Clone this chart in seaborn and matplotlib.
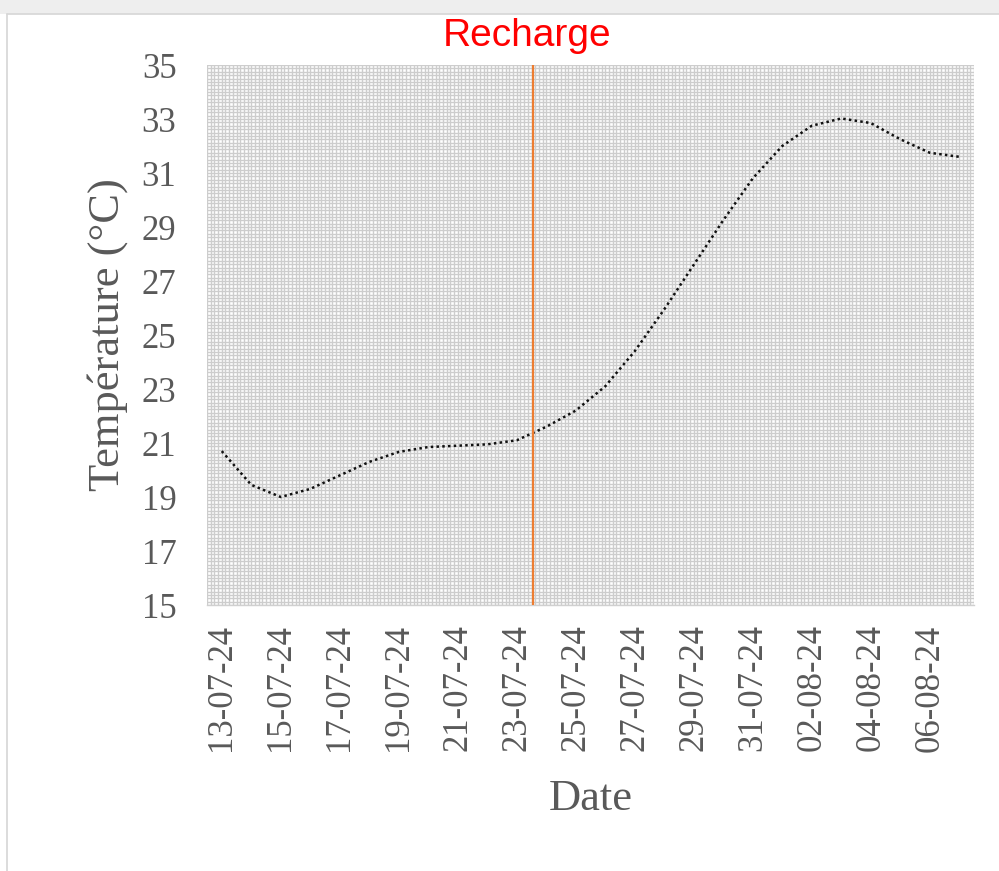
import matplotlib
matplotlib.use("Agg")
import matplotlib.pyplot as plt
import matplotlib.dates as mdates
from matplotlib.patches import Rectangle
from matplotlib.lines import Line2D
import seaborn as sns
import pandas as pd

"""
Data read off the chart.
"""

dates = [
    "2024-07-13", "2024-07-14", "2024-07-15", "2024-07-16", "2024-07-17",
    "2024-07-18", "2024-07-19", "2024-07-20", "2024-07-21", "2024-07-22",
    "2024-07-23", "2024-07-24", "2024-07-25", "2024-07-26", "2024-07-27",
    "2024-07-28", "2024-07-29", "2024-07-30", "2024-07-31", "2024-08-01",
    "2024-08-02", "2024-08-03", "2024-08-04", "2024-08-05", "2024-08-06",
    "2024-08-07",
]
temperature = [
    20.7, 19.45, 19.0, 19.3, 19.8,
    20.3, 20.67, 20.85, 20.9, 20.95,
    21.1, 21.6, 22.2, 23.1, 24.4,
    25.95, 27.6, 29.25, 30.8, 32.0,
    32.75, 33.02, 32.85, 32.25, 31.75,
    31.6,
]
recharge_date = "2024-07-23 13:00"
y_ticks = list(range(15, 36, 2))

df = pd.DataFrame({"date": pd.to_datetime(dates), "temp": temperature})

"""
Plot.
"""

sns.set_theme(style="white")
plt.rcParams["font.family"] = ["Liberation Serif", "DejaVu Serif"]

text_gray = "#595959"

fig = plt.figure(figsize=(9.99, 8.71), dpi=100)
fig.patch.set_facecolor("white")
ax = fig.add_axes([207 / 999, 1 - 605 / 871, (974 - 207) / 999, (605 - 65) / 871])

# screenshot frame
fig.patches.append(Rectangle((0, 1 - 14 / 871), 1, 14 / 871, transform=fig.transFigure,
                             facecolor="#eeeeee", edgecolor="none", zorder=0))
fig.lines.append(Line2D([7 / 999, 7 / 999], [0, 1 - 14 / 871], transform=fig.transFigure,
                        color="#d6d6d6", lw=1.2))
fig.lines.append(Line2D([7 / 999, 1], [1 - 14 / 871, 1 - 14 / 871], transform=fig.transFigure,
                        color="#d6d6d6", lw=1.2))

x0 = pd.Timestamp("2024-07-12 12:00")
x1 = pd.Timestamp("2024-08-07 12:00")

# dense gridlines giving the moire texture
step_x = pd.Timedelta(hours=3)
t = x0
while t <= x1:
    ax.axvline(t, color="#cdcdcd", lw=1.0, zorder=0)
    t += step_x
v = 15.0
while v <= 35.0001:
    ax.axhline(v, color="#cdcdcd", lw=1.0, zorder=0)
    v += 0.125

sns.lineplot(data=df, x="date", y="temp", ax=ax, color="#111111",
             linewidth=1.8, linestyle=(0, (1, 1.3)), zorder=3)

ax.axvline(pd.Timestamp(recharge_date), color="#ed7d31", lw=1.6, zorder=4)

ax.set_xlim(x0, x1)
ax.set_ylim(15, 35)
ax.set_yticks(y_ticks)

label_days = pd.to_datetime(dates[::2])
ax.set_xticks(label_days)
ax.xaxis.set_major_formatter(mdates.DateFormatter("%d-%m-%y"))
ax.set_xticks([d - pd.Timedelta(hours=12) for d in label_days] + [x1], minor=True)
ax.tick_params(axis="x", which="major", length=0, pad=14, labelsize=25,
               labelcolor=text_gray, rotation=90)
ax.tick_params(axis="x", which="minor", length=9, width=1, color="#d0d0d0", direction="out")
ax.tick_params(axis="y", length=0, pad=22, labelsize=25, labelcolor=text_gray)

for side in ["top", "right", "left"]:
    ax.spines[side].set_visible(False)
ax.spines["bottom"].set_color("#d0d0d0")
ax.spines["bottom"].set_linewidth(1)

ax.set_xlabel("Date", fontsize=32, color=text_gray, labelpad=20)
ax.set_ylabel("Température (°C)", fontsize=32, color=text_gray, labelpad=10)

fig.text(527 / 999, 1 - 36 / 871, "Recharge", color="#ff0000", fontsize=28,
         family=["Liberation Sans", "DejaVu Sans"], ha="center", va="center")

fig.savefig("out.png", dpi=100)
plt.close(fig)
